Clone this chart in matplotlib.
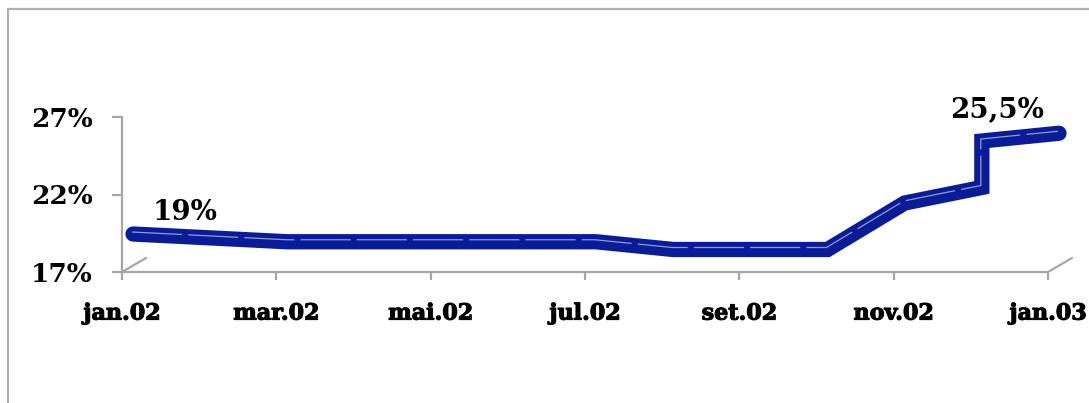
import matplotlib
matplotlib.use("Agg")
import matplotlib.pyplot as plt
import matplotlib.transforms as mtransforms
import matplotlib.patheffects as pe
from matplotlib.patches import Rectangle

# ----------------------------
# DATA
# ----------------------------
month_pos = [0, 2, 6, 7, 9, 10, 11, 11, 12]          # months since jan.02
rate = [19, 18.5, 18.5, 18, 18, 21, 22, 25, 25.5]     # % per year
tick_pos = [0, 2, 4, 6, 8, 10, 12]
tick_labels = ["jan.02", "mar.02", "mai.02", "jul.02", "set.02", "nov.02", "jan.03"]
y_ticks = [17, 22, 27]
y_labels = ["17%", "22%", "27%"]
label_idx = [0, 8]
label_text = ["19%", "25,5%"]

BLUE = "#0a1b98"
GRID = "#a6a6a6"
FONT = "DejaVu Serif"
heavy = [pe.withStroke(linewidth=0.8, foreground="black")]

fig = plt.figure(figsize=(10.89, 4.03), dpi=100)
ax = fig.add_axes([122 / 1089, 131 / 403, 926 / 1089, 155 / 403])

ax.set_xlim(0, 12)
ax.set_ylim(17, 27)

# line sits halfway into the 3d depth of the plot
depth = mtransforms.offset_copy(ax.transData, fig=fig, x=11, y=7, units="dots")
ax.plot(month_pos, rate, color=BLUE, lw=11, solid_joinstyle="miter",
        solid_capstyle="round", transform=depth, clip_on=False, zorder=3)
shine = mtransforms.offset_copy(ax.transData, fig=fig, x=10, y=9, units="dots")
ax.plot(month_pos, rate, color="#8f9cc8", lw=0.9, dashes=(40, 5),
        transform=shine, clip_on=False, zorder=4)

# axes frame
for side in ["top", "right"]:
    ax.spines[side].set_visible(False)
for side in ["left", "bottom"]:
    ax.spines[side].set_color(GRID)
    ax.spines[side].set_linewidth(1.6)

ax.set_xticks(tick_pos)
ax.set_xticklabels(tick_labels, fontfamily=FONT, fontweight="bold", fontsize=16,
                   path_effects=heavy)
ax.set_yticks(y_ticks)
ax.set_yticklabels(y_labels, fontfamily=FONT, fontweight="bold", fontsize=19)
ax.tick_params(axis="x", length=6, width=1.6, color=GRID, pad=16)
ax.tick_params(axis="y", length=7, width=1.6, color=GRID, pad=14)

# depth edges of the floor
for x0 in [0, 12]:
    ax.annotate("", xy=(x0, 17), xytext=(24, 14), textcoords="offset pixels",
                arrowprops=dict(arrowstyle="-", color=GRID, lw=1.6,
                                shrinkA=0, shrinkB=0),
                annotation_clip=False)

# data labels
offsets = [(63, 28), (-51, 30)]
for i, txt, off in zip(label_idx, label_text, offsets):
    ax.annotate(txt, xy=(month_pos[i], rate[i]), xytext=off,
                textcoords="offset pixels", ha="center", va="center",
                fontfamily=FONT, fontweight="bold", fontsize=20,
                annotation_clip=False)

# chart area border
fig.patches.append(Rectangle((8 / 1089, -0.2), 1.2, 1.2 - 9 / 403,
                             transform=fig.transFigure, fill=False,
                             edgecolor="#b0b0b0", lw=1.6))

fig.savefig("out.png", dpi=100)
